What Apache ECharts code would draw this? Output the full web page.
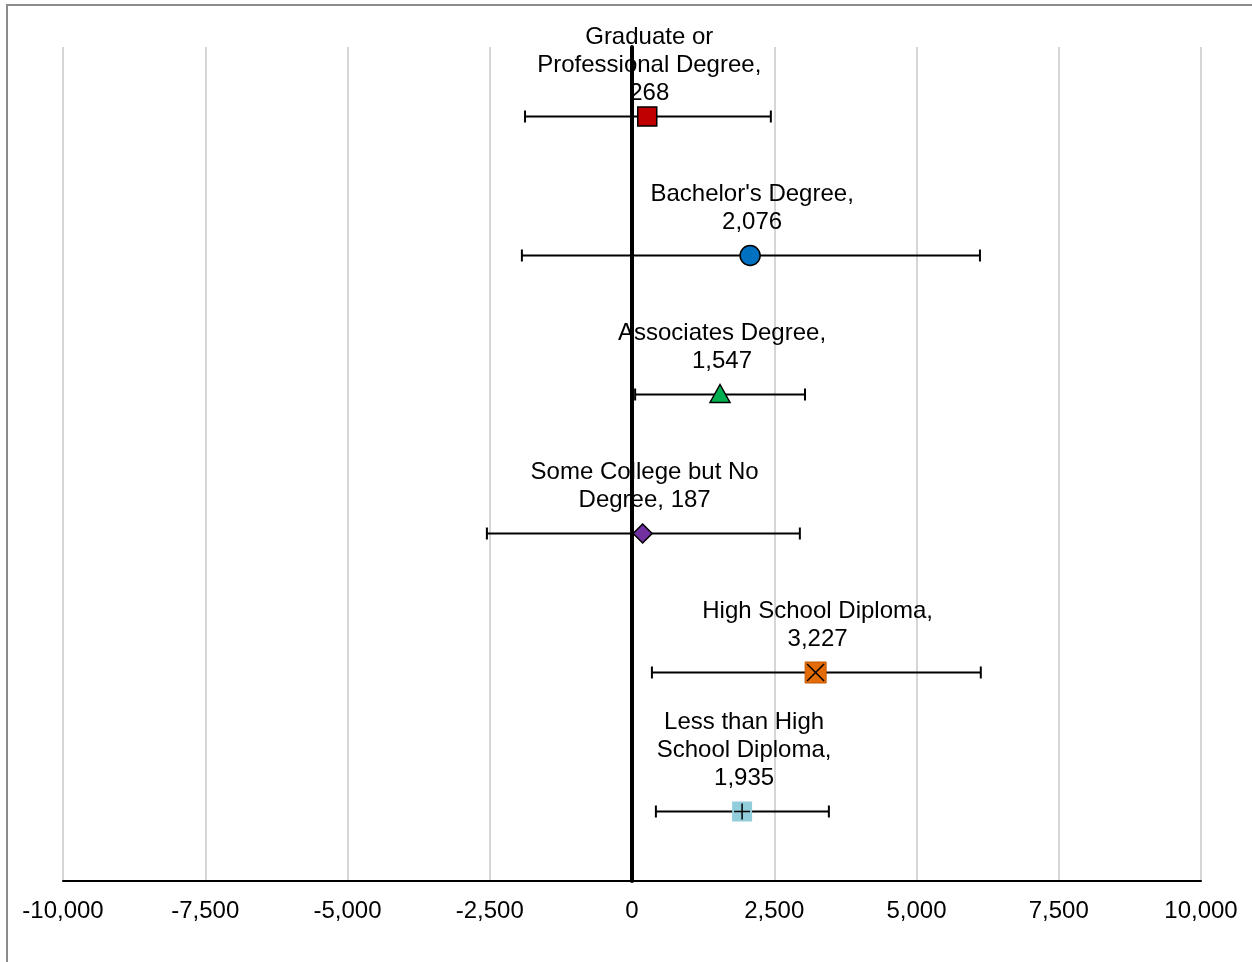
<!DOCTYPE html>
<html lang="en">

<head>
    <meta charset="UTF-8">
    <title>Error bars by education</title>
    <script src="https://cdn.jsdelivr.net/npm/echarts@6/dist/echarts.min.js"></script>
    <style>
        body {
            margin: 0;
            background: #fff;
        }

        #root {
            position: absolute;
            left: 0;
            top: 0;
            width: 1252px;
            height: 962px;
        }

        #frame {
            position: absolute;
            left: 6px;
            top: 4px;
            width: 1300px;
            height: 1000px;
            border-left: 2px solid #8c8c8c;
            border-top: 2px solid #8c8c8c;
            pointer-events: none;
        }
    </style>
</head>

<body>

    <div id="root"></div>
    <div id="frame"></div>
    <script>

        // categories, top to bottom
        var categories = [
            'Graduate or\nProfessional Degree,',
            "Bachelor's Degree,",
            'Associates Degree,',
            'Some College but No\nDegree,',
            'High School Diploma,',
            'Less than High\nSchool Diploma,'
        ];
        var means = [268, 2076, 1547, 187, 3227, 1935];
        var lower = [-1880, -1935, 55, -2550, 350, 420];
        var upper = [2440, 6115, 3040, 2950, 6130, 3460];
        var xTicks = [-10000, 10000, 2500];

        // marker look per row
        var markers = [
            { shape: 'square', fill: '#C00000', size: 19 },
            { shape: 'circle', fill: '#0070C0', size: 20 },
            { shape: 'triangle', fill: '#00B050', size: 20 },
            { shape: 'diamond', fill: '#7030A0', size: 19 },
            { shape: 'squareX', fill: '#E36C09', size: 21 },
            { shape: 'squarePlus', fill: '#92CDDC', size: 20 }
        ];

        var FONT = '24px "Liberation Sans", Arial';
        var LINE_H = 28;

        function fmt(v) {
            return v.toLocaleString('en-US');
        }

        // "Some College" puts the number on the same line as "Degree,"
        function labelText(i) {
            if (i === 3) return categories[i] + ' ' + fmt(means[i]);
            return categories[i] + '\n' + fmt(means[i]);
        }

        var data = categories.map(function (c, i) {
            // rows centred in bands of height 1, top row highest
            return [means[i], categories.length - 0.5 - i, lower[i], upper[i], i];
        });

        function markerShape(m, cx, cy) {
            var h = m.size / 2;
            var base = { stroke: '#000', lineWidth: 1.5, fill: m.fill };
            if (m.shape === 'circle') {
                return [{ type: 'circle', shape: { cx: cx, cy: cy, r: h }, style: base }];
            }
            if (m.shape === 'triangle') {
                return [{ type: 'polygon', shape: { points: [[cx, cy - h], [cx + h, cy + h * 0.8], [cx - h, cy + h * 0.8]] }, style: base }];
            }
            if (m.shape === 'diamond') {
                return [{ type: 'polygon', shape: { points: [[cx, cy - h], [cx + h, cy], [cx, cy + h], [cx - h, cy]] }, style: base }];
            }
            if (m.shape === 'square') {
                return [{ type: 'rect', shape: { x: cx - h, y: cy - h, width: m.size, height: m.size }, style: base }];
            }
            if (m.shape === 'squareX') {
                return [
                    { type: 'rect', shape: { x: cx - h, y: cy - h, width: m.size, height: m.size }, style: { fill: m.fill, stroke: '#c05a00', lineWidth: 1 } },
                    { type: 'line', shape: { x1: cx - h + 2, y1: cy - h + 2, x2: cx + h - 2, y2: cy + h - 2 }, style: { stroke: '#000', lineWidth: 1.5 } },
                    { type: 'line', shape: { x1: cx + h - 2, y1: cy - h + 2, x2: cx - h + 2, y2: cy + h - 2 }, style: { stroke: '#000', lineWidth: 1.5 } }
                ];
            }
            return [
                { type: 'rect', shape: { x: cx - h, y: cy - h, width: m.size, height: m.size }, style: { fill: m.fill } },
                { type: 'line', shape: { x1: cx - h + 2, y1: cy, x2: cx + h - 2, y2: cy }, style: { stroke: '#000', lineWidth: 1.5 } },
                { type: 'line', shape: { x1: cx, y1: cy - h + 2, x2: cx, y2: cy + h - 2 }, style: { stroke: '#000', lineWidth: 1.5 } }
            ];
        }

        var mychart = echarts.init(document.getElementById('root'));

        mychart.setOption({
            animation: false,
            grid: { left: 63, right: 51, top: 47, bottom: 81 },
            xAxis: {
                type: 'value',
                min: xTicks[0],
                max: xTicks[1],
                interval: xTicks[2],
                axisLine: { show: true, lineStyle: { color: '#000', width: 2 } },
                axisTick: { show: false },
                axisLabel: {
                    color: '#000',
                    fontSize: 24,
                    fontFamily: 'Liberation Sans, Arial',
                    margin: 18,
                    formatter: function (v) { return fmt(v); }
                },
                splitLine: { show: true, lineStyle: { color: '#c8c8c8', width: 1.5 } }
            },
            yAxis: {
                type: 'value',
                min: 0,
                max: 6,
                axisLine: { show: true, onZero: true, lineStyle: { color: '#000', width: 4 } },
                axisTick: { show: false },
                axisLabel: { show: false },
                splitLine: { show: false }
            },
            series: [{
                type: 'custom',
                z: 1,
                renderItem: function (params, api) {
                    var i = api.value(4);
                    var p = api.coord([api.value(0), api.value(1)]);
                    var l = api.coord([api.value(2), api.value(1)]);
                    var r = api.coord([api.value(3), api.value(1)]);
                    var cap = 6;
                    var bar = { stroke: '#000', lineWidth: 2 };
                    var children = [
                        { type: 'line', shape: { x1: l[0], y1: l[1], x2: r[0], y2: r[1] }, style: bar },
                        { type: 'line', shape: { x1: l[0], y1: l[1] - cap, x2: l[0], y2: l[1] + cap }, style: bar },
                        { type: 'line', shape: { x1: r[0], y1: r[1] - cap, x2: r[0], y2: r[1] + cap }, style: bar }
                    ];
                    children = children.concat(markerShape(markers[i], p[0], p[1]));
                    // keep the label inside the chart at the top
                    var text = labelText(i);
                    var nLines = text.split('\n').length;
                    var bottom = Math.max(p[1] - 19, 23 + nLines * LINE_H);
                    children.push({
                        type: 'text',
                        z2: 10,
                        style: {
                            text: text,
                            x: p[0] + 2,
                            y: bottom,
                            align: 'center',
                            verticalAlign: 'bottom',
                            fill: '#000',
                            font: FONT,
                            lineHeight: LINE_H
                        }
                    });
                    return { type: 'group', children: children };
                },
                data: data
            }]
        });

    </script>

</body>

</html>
